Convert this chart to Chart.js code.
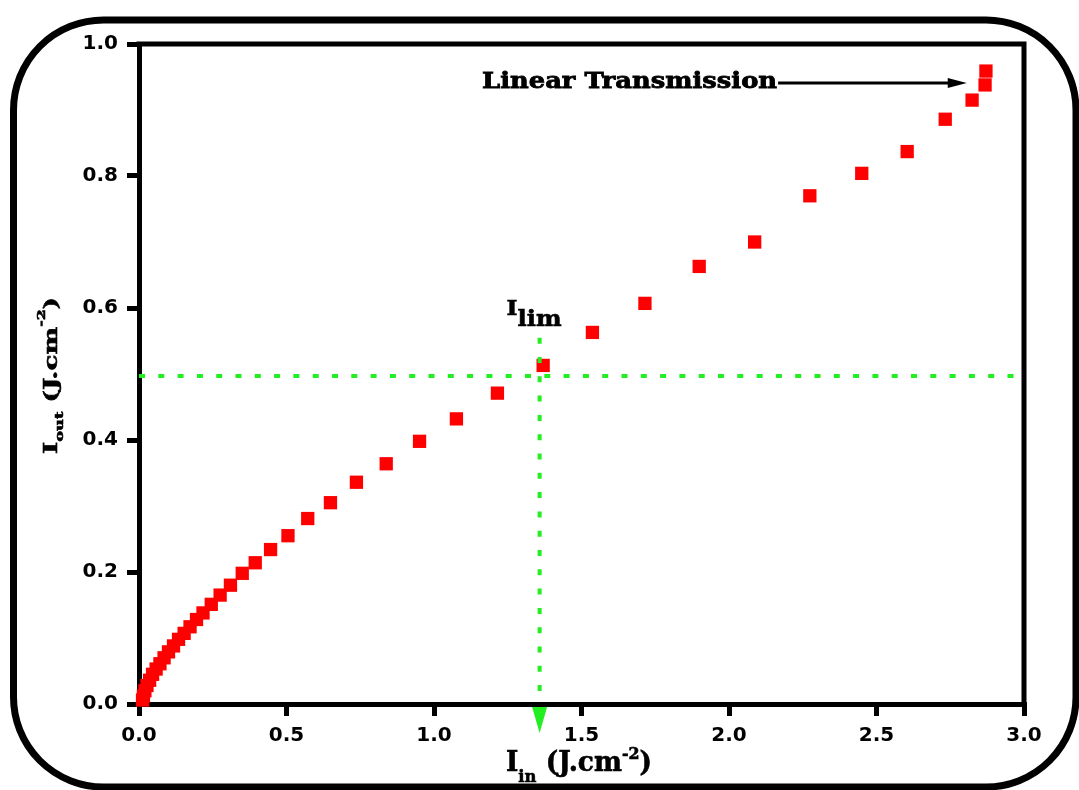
<!DOCTYPE html>
<html>
<head>
<meta charset="utf-8">
<script src="https://cdn.jsdelivr.net/npm/chart.js@4.4.1/dist/chart.umd.min.js"></script>
<style>
  html, body { margin: 0; padding: 0; background: #fff; }
  #wrap { width: 1079px; height: 790px; position: relative; }
</style>
</head>
<body>
<div id="wrap"><canvas id="chart"></canvas></div>
<script>
// input fluence vs output fluence (J.cm-2)
const iin = [0.012, 0.015, 0.020, 0.027, 0.036, 0.046, 0.058, 0.071, 0.085, 0.100,
  0.117, 0.134, 0.153, 0.173, 0.195, 0.217, 0.245, 0.275, 0.310, 0.350,
  0.394, 0.446, 0.505, 0.572, 0.649, 0.737, 0.838, 0.951, 1.076, 1.215,
  1.370, 1.537, 1.715, 1.899, 2.087, 2.274, 2.450, 2.604, 2.733, 2.824,
  2.868, 2.871];
const iout = [0.006, 0.012, 0.020, 0.028, 0.036, 0.045, 0.053, 0.061, 0.070, 0.079,
  0.088, 0.098, 0.107, 0.117, 0.128, 0.138, 0.151, 0.165, 0.180, 0.198,
  0.214, 0.234, 0.255, 0.281, 0.305, 0.336, 0.364, 0.398, 0.432, 0.471,
  0.513, 0.563, 0.607, 0.663, 0.700, 0.770, 0.804, 0.837, 0.886, 0.915,
  0.938, 0.959];
const xTicks = [0, 0.5, 1.0, 1.5, 2.0, 2.5, 3.0];
const yTicks = [0, 0.2, 0.4, 0.6, 0.8, 1.0];

// limiting threshold guides
const limX = 1.358;
const limY = 0.497;
const limTop = 0.555;

// "Linear Transmission" arrow
const arrowTip = [2.806, 0.941];
const arrowTextEnd = 2.163;

const green = '#22ee22';
const serif = '"DejaVu Serif"';

// draws text pieces (sub/superscripts) in a row, stretched to a given width
function drawRich(ctx, parts, size, target, heavy) {
  let w = 0;
  parts.forEach(p => {
    ctx.font = 'bold ' + (size * p[1]) + 'px ' + serif;
    w += ctx.measureText(p[0]).width;
  });
  const sx = target ? target / w : 1;
  ctx.save();
  ctx.scale(sx, 1);
  ctx.lineWidth = heavy || 0;
  ctx.strokeStyle = ctx.fillStyle;
  let x = 0;
  parts.forEach(p => {
    ctx.font = 'bold ' + (size * p[1]) + 'px ' + serif;
    ctx.fillText(p[0], x, p[2] * size);
    if (heavy) ctx.strokeText(p[0], x, p[2] * size);
    x += ctx.measureText(p[0]).width;
  });
  ctx.restore();
}

function roundRect(ctx, x, y, w, h, r) {
  ctx.beginPath();
  ctx.moveTo(x + r, y);
  ctx.lineTo(x + w - r, y);
  ctx.arcTo(x + w, y, x + w, y + r, r);
  ctx.lineTo(x + w, y + h - r);
  ctx.arcTo(x + w, y + h, x + w - r, y + h, r);
  ctx.lineTo(x + r, y + h);
  ctx.arcTo(x, y + h, x, y + h - r, r);
  ctx.lineTo(x, y + r);
  ctx.arcTo(x, y, x + r, y, r);
  ctx.closePath();
}

const decor = {
  id: 'decor',
  beforeDraw(chart) {
    const ctx = chart.ctx;
    ctx.save();
    ctx.fillStyle = '#fff';
    ctx.fillRect(0, 0, chart.width, chart.height);
    ctx.strokeStyle = '#000';
    ctx.lineWidth = 7;
    roundRect(ctx, 13.5, 20, 1062.5, 767, 90);
    ctx.stroke();
    ctx.restore();
  },
  afterDraw(chart) {
    const { ctx, chartArea: a, scales: { x, y } } = chart;
    ctx.save();
    // top and right frame
    ctx.strokeStyle = '#000';
    ctx.lineWidth = 5;
    ctx.beginPath();
    ctx.moveTo(a.left - 2.5, a.top);
    ctx.lineTo(a.right, a.top);
    ctx.lineTo(a.right, a.bottom + 2.5);
    ctx.stroke();

    // green arrow head under the axis
    const gx = x.getPixelForValue(limX);
    ctx.fillStyle = green;
    ctx.beginPath();
    ctx.moveTo(gx - 7.5, a.bottom + 3);
    ctx.lineTo(gx + 7.5, a.bottom + 3);
    ctx.lineTo(gx, a.bottom + 29);
    ctx.closePath();
    ctx.fill();

    ctx.fillStyle = '#000';
    ctx.textBaseline = 'alphabetic';
    ctx.textAlign = 'left';

    // I_lim label
    const gy = y.getPixelForValue(limTop);
    ctx.save();
    ctx.translate(gx - 33, gy - 23);
    drawRich(ctx, [['I', 1, 0]], 20, 11, 0.6);
    ctx.restore();
    ctx.save();
    ctx.translate(gx - 22, gy - 12);
    drawRich(ctx, [['lim', 1, 0]], 23, 44, 0.6);
    ctx.restore();

    // Linear Transmission annotation
    const tx = x.getPixelForValue(arrowTip[0]);
    const ty = y.getPixelForValue(arrowTip[1]);
    const ex = x.getPixelForValue(arrowTextEnd);
    ctx.save();
    ctx.translate(ex - 295, ty + 5.5);
    drawRich(ctx, [['Linear Transmission', 1, 0]], 22.5, 295, 0.8);
    ctx.restore();
    ctx.lineWidth = 3;
    ctx.beginPath();
    ctx.moveTo(ex + 1, ty);
    ctx.lineTo(tx - 16, ty);
    ctx.stroke();
    ctx.beginPath();
    ctx.moveTo(tx - 19, ty - 5);
    ctx.lineTo(tx, ty);
    ctx.lineTo(tx - 19, ty + 5);
    ctx.closePath();
    ctx.fill();

    // x axis title
    ctx.save();
    ctx.translate(506, 771);
    drawRich(ctx, [['I', 1, 0], ['in', 0.62, 0.42], [' (J.cm', 1, 0], ['-2', 0.6, -0.45], [')', 1, 0]], 27, 146, 0.6);
    ctx.restore();

    // y axis title
    ctx.save();
    ctx.translate(57, 454);
    ctx.rotate(-Math.PI / 2);
    drawRich(ctx, [['I', 1, 0], ['out', 0.62, 0.3], [' (J.cm', 1, 0], ['-2', 0.6, -0.62], [')', 1, 0]], 19, 157, 0.6);
    ctx.restore();

    ctx.restore();
  }
};

const tickFont = { family: '"DejaVu Sans"', weight: 'bold', size: 20 };

new Chart(document.getElementById('chart'), {
  type: 'scatter',
  data: {
    datasets: [
      {
        label: 'horizontal guide',
        data: [{ x: 0, y: limY }, { x: 3, y: limY }],
        showLine: true,
        borderColor: green,
        borderWidth: 4,
        borderDash: [6, 13.3],
        pointRadius: 0,
        order: 0,
      },
      {
        label: 'vertical guide',
        data: [{ x: limX, y: limTop }, { x: limX, y: 0 }],
        showLine: true,
        borderColor: green,
        borderWidth: 4,
        borderDash: [6, 13.3],
        pointRadius: 0,
        order: 0,
      },
      {
        label: 'Iout',
        data: iin.map((v, i) => ({ x: v, y: iout[i] })),
        pointStyle: 'rect',
        pointRadius: 9.4,
        borderWidth: 0,
        backgroundColor: '#ff0000',
        clip: false,
        order: 1,
      },
    ],
  },
  options: {
    responsive: true,
    maintainAspectRatio: false,
    animation: false,
    layout: { padding: { top: 44, right: 55, left: 0, bottom: 0 } },
    plugins: { legend: { display: false }, tooltip: { enabled: false } },
    scales: {
      x: {
        type: 'linear',
        min: 0,
        max: 3,
        afterBuildTicks: s => { s.ticks = xTicks.map(v => ({ value: v })); },
        afterFit: s => { s.height = 86; },
        grid: { drawOnChartArea: false, drawTicks: true, tickLength: 12, tickWidth: 5, lineWidth: 5, tickColor: '#000', color: '#000' },
        border: { display: true, color: '#000', width: 5 },
        ticks: { color: '#000', font: tickFont, padding: 8, maxRotation: 0, callback: v => v.toFixed(1) },
      },
      y: {
        type: 'linear',
        min: 0,
        max: 1,
        afterBuildTicks: s => { s.ticks = yTicks.map(v => ({ value: v })); },
        afterFit: s => { s.width = 139; },
        grid: { drawOnChartArea: false, drawTicks: true, tickLength: 12, tickWidth: 5, lineWidth: 5, tickColor: '#000', color: '#000' },
        border: { display: true, color: '#000', width: 5 },
        ticks: { color: '#000', font: tickFont, padding: 9, callback: v => v.toFixed(1) },
      },
    },
  },
  plugins: [decor],
});
</script>
</body>
</html>
